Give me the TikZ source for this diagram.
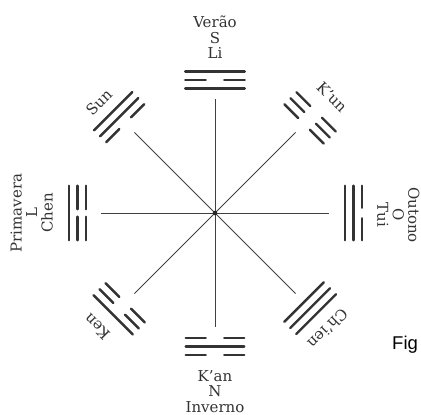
\documentclass[tikz,border=0pt]{standalone}
\usepackage{fontspec}
\setmainfont{DejaVu Serif}
\newfontfamily\figfont{Liberation Sans}
\newcommand\yangline[1]{\draw[triline] (#1,-\trihl) -- (#1,\trihl);}
\newcommand\yinline[1]{\draw[triline] (#1,-\trihl) -- (#1,-\trihg) (#1,\trihg) -- (#1,\trihl);}
% angle, inner radius, half length, half gap, inner, middle, outer
\newcommand\trigram[7]{%
  \begin{scope}[rotate=#1]
    \def\trihl{#3}\def\trihg{#4}%
    #5{#2}#6{#2+8.5}#7{#2+17}%
  \end{scope}}
\begin{document}
\begin{tikzpicture}[x=1pt,y=1pt,
  spoke/.style={draw=black!75, line width=0.9pt},
  triline/.style={draw=black!80, line width=2.4pt, line cap=round},
  lbl/.style={text=black!80, font=\fontsize{15}{15.5}\selectfont, inner sep=0pt, align=center}]
\useasboundingbox (-215,-202) rectangle (206,213);

\coordinate (c) at (0,0);
\foreach \a in {0,45,...,315} {
  \coordinate (e\a) at (\a:114);
  \draw[spoke] (c) -- (e\a);
}
\fill[black!85] (c) circle (2.3pt);

% trigrams (inner line first)
\trigram{90}{124.5}{29.8}{9.2}{\yangline}{\yinline}{\yangline}   % Li
\trigram{45}{126}{27.8}{8.2}{\yinline}{\yinline}{\yinline}       % K'un
\trigram{0}{130}{27.3}{5.2}{\yangline}{\yangline}{\yinline}      % Tui
\trigram{-45}{126}{28}{8}{\yangline}{\yangline}{\yangline}       % Ch'ien
\trigram{-90}{125}{29.3}{9.2}{\yinline}{\yangline}{\yinline}     % K'an
\trigram{-135}{127}{27.8}{8.2}{\yinline}{\yinline}{\yangline}    % Ken
\trigram{180}{129}{27.3}{3.7}{\yinline}{\yinline}{\yangline}     % Chen
\trigram{135}{127}{27}{8.2}{\yinline}{\yangline}{\yangline}      % Sun

% labels
\node[lbl, anchor=south] (li) at (0,154) {Verão\\S\\Li};
\node[lbl, anchor=north] (kan) at (0,-157) {K'an\\N\\Inverno};
\node[lbl, anchor=south, rotate=90] (chen) at (-162,0) {Primavera\\L\\Chen};
\node[lbl, anchor=south, rotate=-90] (tui) at (162,-2) {Outono\\O\\Tui};
\node[lbl, rotate=45] (sun) at (-116,111) {Sun};
\node[lbl, rotate=-45] (kun) at (117,116) {K'un};
\node[lbl, rotate=-135] (chien) at (113,-116) {Ch'ien};
\node[lbl, rotate=135] (ken) at (-118,-114) {Ken};
\node[anchor=base west, inner sep=0pt, font=\figfont\fontsize{18.5}{20}\selectfont] (fig) at (177,-137) {Fig};
\end{tikzpicture}
\end{document}
